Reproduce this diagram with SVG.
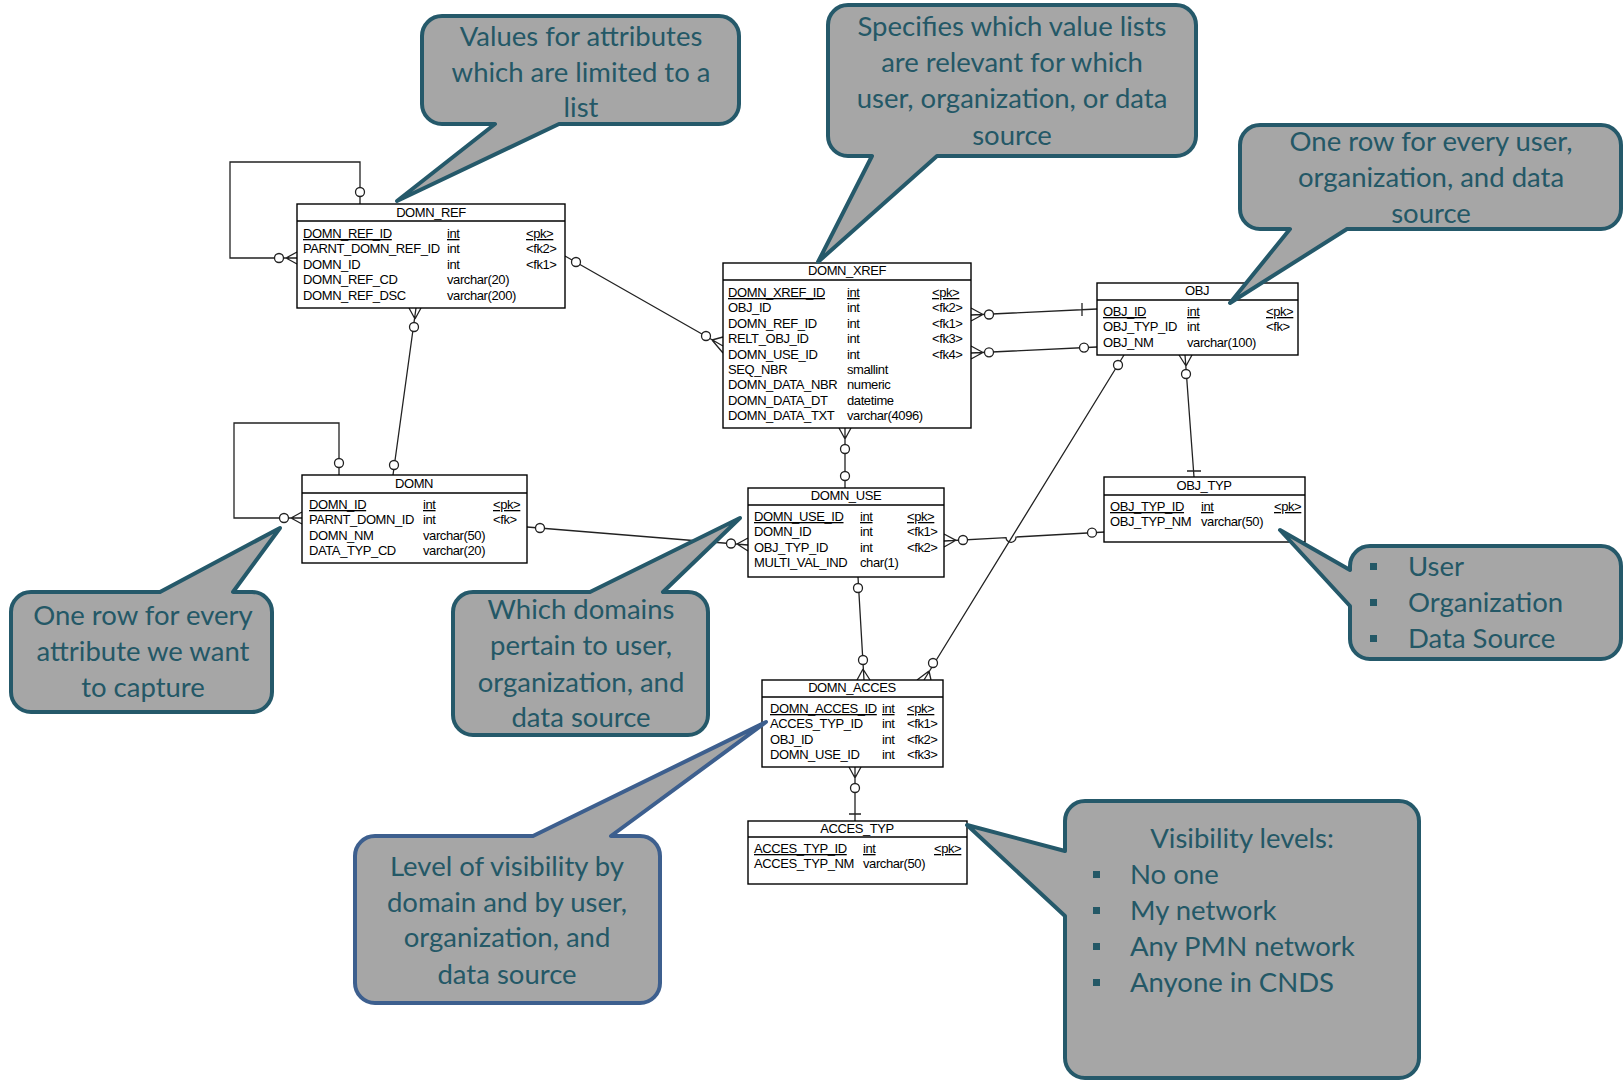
<svg xmlns="http://www.w3.org/2000/svg" width="1624" height="1081" viewBox="0 0 1624 1081">
<style>
.bg{fill:#fff}
.box{fill:#fff;stroke:#000;stroke-width:1.4}
.hl{stroke:#000;stroke-width:1.3}
.t{font-family:"Liberation Sans",Arial,sans-serif;font-size:13px;letter-spacing:-0.4px;fill:#000}
.u{text-decoration:underline}
.ttl{text-anchor:middle}
.ln{fill:none;stroke:#222;stroke-width:1.3}
.cir{fill:#fff;stroke:#222;stroke-width:1.3}
.co{fill:#a6a6a6;stroke:#25596a;stroke-width:4;stroke-linejoin:round}
.co2{fill:#a6a6a6;stroke:#3d5f8e;stroke-width:4;stroke-linejoin:round}
.ct{font-family:Lato,"Open Sans",sans-serif;font-size:27.5px;fill:#245866;text-anchor:middle}
.cb{font-family:Lato,"Open Sans",sans-serif;font-size:27.5px;fill:#245866}
.bul{fill:#245866}
</style>
<rect class="bg" x="0" y="0" width="1624" height="1081"/>

<g id="connectors">
  <path class="ln" d="M360,204 V162 H230 V258 H297 M286,258 L297,252 M286,258 L297,264"/>
  <circle class="cir" cx="360" cy="192" r="4.5"/>
  <circle class="cir" cx="279" cy="258" r="4.5"/>
  <path class="ln" d="M339,475 V423 H234 V518 H302 M291,518 L302,512 M291,518 L302,524"/>
  <circle class="cir" cx="339" cy="463" r="4.5"/>
  <circle class="cir" cx="284" cy="518" r="4.5"/>
  <path class="ln" d="M416,308 L393,475 M415,319 L409,308 M415,319 L421,308"/>
  <circle class="cir" cx="414" cy="327" r="4.5"/>
  <circle class="cir" cx="394" cy="465" r="4.5"/>
  <path class="ln" d="M565,256 L723,346 M712,340 L723,337 M712,340 L723,353"/>
  <circle class="cir" cx="576" cy="262" r="4.5"/>
  <circle class="cir" cx="706" cy="336" r="4.5"/>
  <path class="ln" d="M971,315 L1097,309 M983,314.5 L971,308 M983,314.5 L971,321 M1082,303 V316"/>
  <circle class="cir" cx="989" cy="314.5" r="4.5"/>
  <path class="ln" d="M971,353 L1097,347 M983,352.5 L971,346 M983,352.5 L971,359"/>
  <circle class="cir" cx="989" cy="352.3" r="4.5"/>
  <circle class="cir" cx="1084" cy="347.6" r="4.5"/>
  <path class="ln" d="M845,428 V488 M845,439 L839,428 M845,439 L851,428"/>
  <circle class="cir" cx="845" cy="449" r="4.5"/>
  <circle class="cir" cx="845" cy="476" r="4.5"/>
  <path class="ln" d="M527,527 L748,545 M737,544 L748,538 M737,544 L748,551"/>
  <circle class="cir" cx="540" cy="528" r="4.5"/>
  <circle class="cir" cx="731" cy="543.5" r="4.5"/>
  <path class="ln" d="M944,541 L1006,537.6 A5,5 0 0 0 1016,537 L1105,532 M956,540.3 L944,534 M956,540.3 L944,547"/>
  <circle class="cir" cx="963" cy="540" r="4.5"/>
  <circle class="cir" cx="1092" cy="532.7" r="4.5"/>
  <path class="ln" d="M858,577 L864,680 M863,669 L857,680 M863,669 L870,680"/>
  <circle class="cir" cx="858" cy="588" r="4.5"/>
  <circle class="cir" cx="863" cy="660" r="4.5"/>
  <path class="ln" d="M1124,355 L924,680 M929,671 L917,680 M929,671 L931,680"/>
  <circle class="cir" cx="1118" cy="365" r="4.5"/>
  <circle class="cir" cx="933" cy="663" r="4.5"/>
  <path class="ln" d="M1185,355 L1194,477 M1186,366 L1179,355 M1186,366 L1192,355 M1187,471 H1201"/>
  <circle class="cir" cx="1186" cy="374" r="4.5"/>
  <path class="ln" d="M855,767 V821 M855,778 L849,767 M855,778 L861,767 M849,814 H861"/>
  <circle class="cir" cx="855" cy="788" r="4.5"/>
</g>

<g id="DOMN_REF">
  <rect class="box" x="297" y="204" width="268" height="104"/>
  <line class="hl" x1="297" y1="221" x2="565" y2="221"/>
  <text class="t ttl" x="431" y="217">DOMN_REF</text>
  <text class="t u" x="303" y="238">DOMN_REF_ID</text><text class="t u" x="447" y="238">int</text><text class="t u" x="526" y="238">&lt;pk&gt;</text>
  <text class="t" x="303" y="253.4">PARNT_DOMN_REF_ID</text><text class="t" x="447" y="253.4">int</text><text class="t" x="526" y="253.4">&lt;fk2&gt;</text>
  <text class="t" x="303" y="268.8">DOMN_ID</text><text class="t" x="447" y="268.8">int</text><text class="t" x="526" y="268.8">&lt;fk1&gt;</text>
  <text class="t" x="303" y="284.2">DOMN_REF_CD</text><text class="t" x="447" y="284.2">varchar(20)</text>
  <text class="t" x="303" y="299.6">DOMN_REF_DSC</text><text class="t" x="447" y="299.6">varchar(200)</text>
</g>

<g id="DOMN_XREF">
  <rect class="box" x="723" y="263" width="248" height="165"/>
  <line class="hl" x1="723" y1="280" x2="971" y2="280"/>
  <text class="t ttl" x="847" y="275">DOMN_XREF</text>
  <text class="t u" x="728" y="297">DOMN_XREF_ID</text><text class="t u" x="847" y="297">int</text><text class="t u" x="932" y="297">&lt;pk&gt;</text>
  <text class="t" x="728" y="312.4">OBJ_ID</text><text class="t" x="847" y="312.4">int</text><text class="t" x="932" y="312.4">&lt;fk2&gt;</text>
  <text class="t" x="728" y="327.8">DOMN_REF_ID</text><text class="t" x="847" y="327.8">int</text><text class="t" x="932" y="327.8">&lt;fk1&gt;</text>
  <text class="t" x="728" y="343.2">RELT_OBJ_ID</text><text class="t" x="847" y="343.2">int</text><text class="t" x="932" y="343.2">&lt;fk3&gt;</text>
  <text class="t" x="728" y="358.6">DOMN_USE_ID</text><text class="t" x="847" y="358.6">int</text><text class="t" x="932" y="358.6">&lt;fk4&gt;</text>
  <text class="t" x="728" y="374">SEQ_NBR</text><text class="t" x="847" y="374">smallint</text>
  <text class="t" x="728" y="389.4">DOMN_DATA_NBR</text><text class="t" x="847" y="389.4">numeric</text>
  <text class="t" x="728" y="404.8">DOMN_DATA_DT</text><text class="t" x="847" y="404.8">datetime</text>
  <text class="t" x="728" y="420.2">DOMN_DATA_TXT</text><text class="t" x="847" y="420.2">varchar(4096)</text>
</g>

<g id="OBJ">
  <rect class="box" x="1097" y="283" width="201" height="72"/>
  <line class="hl" x1="1097" y1="300" x2="1298" y2="300"/>
  <text class="t ttl" x="1197" y="295">OBJ</text>
  <text class="t u" x="1103" y="316">OBJ_ID</text><text class="t u" x="1187" y="316">int</text><text class="t u" x="1266" y="316">&lt;pk&gt;</text>
  <text class="t" x="1103" y="331.4">OBJ_TYP_ID</text><text class="t" x="1187" y="331.4">int</text><text class="t" x="1266" y="331.4">&lt;fk&gt;</text>
  <text class="t" x="1103" y="346.8">OBJ_NM</text><text class="t" x="1187" y="346.8">varchar(100)</text>
</g>

<g id="DOMN">
  <rect class="box" x="302" y="475" width="225" height="88"/>
  <line class="hl" x1="302" y1="493" x2="527" y2="493"/>
  <text class="t ttl" x="414" y="488">DOMN</text>
  <text class="t u" x="309" y="509">DOMN_ID</text><text class="t u" x="423" y="509">int</text><text class="t u" x="493" y="509">&lt;pk&gt;</text>
  <text class="t" x="309" y="524.4">PARNT_DOMN_ID</text><text class="t" x="423" y="524.4">int</text><text class="t" x="493" y="524.4">&lt;fk&gt;</text>
  <text class="t" x="309" y="539.8">DOMN_NM</text><text class="t" x="423" y="539.8">varchar(50)</text>
  <text class="t" x="309" y="555.2">DATA_TYP_CD</text><text class="t" x="423" y="555.2">varchar(20)</text>
</g>

<g id="DOMN_USE">
  <rect class="box" x="748" y="488" width="196" height="89"/>
  <line class="hl" x1="748" y1="505" x2="944" y2="505"/>
  <text class="t ttl" x="846" y="500">DOMN_USE</text>
  <text class="t u" x="754" y="521">DOMN_USE_ID</text><text class="t u" x="860" y="521">int</text><text class="t u" x="907" y="521">&lt;pk&gt;</text>
  <text class="t" x="754" y="536.4">DOMN_ID</text><text class="t" x="860" y="536.4">int</text><text class="t" x="907" y="536.4">&lt;fk1&gt;</text>
  <text class="t" x="754" y="551.8">OBJ_TYP_ID</text><text class="t" x="860" y="551.8">int</text><text class="t" x="907" y="551.8">&lt;fk2&gt;</text>
  <text class="t" x="754" y="567.2">MULTI_VAL_IND</text><text class="t" x="860" y="567.2">char(1)</text>
</g>

<g id="OBJ_TYP">
  <rect class="box" x="1104" y="477" width="201" height="65"/>
  <line class="hl" x1="1104" y1="495" x2="1305" y2="495"/>
  <text class="t ttl" x="1204" y="490">OBJ_TYP</text>
  <text class="t u" x="1110" y="511">OBJ_TYP_ID</text><text class="t u" x="1201" y="511">int</text><text class="t u" x="1274" y="511">&lt;pk&gt;</text>
  <text class="t" x="1110" y="526.4">OBJ_TYP_NM</text><text class="t" x="1201" y="526.4">varchar(50)</text>
</g>

<g id="DOMN_ACCES">
  <rect class="box" x="762" y="680" width="181" height="87"/>
  <line class="hl" x1="762" y1="697" x2="943" y2="697"/>
  <text class="t ttl" x="852" y="692">DOMN_ACCES</text>
  <text class="t u" x="770" y="713">DOMN_ACCES_ID</text><text class="t u" x="882" y="713">int</text><text class="t u" x="907" y="713">&lt;pk&gt;</text>
  <text class="t" x="770" y="728.4">ACCES_TYP_ID</text><text class="t" x="882" y="728.4">int</text><text class="t" x="907" y="728.4">&lt;fk1&gt;</text>
  <text class="t" x="770" y="743.8">OBJ_ID</text><text class="t" x="882" y="743.8">int</text><text class="t" x="907" y="743.8">&lt;fk2&gt;</text>
  <text class="t" x="770" y="759.2">DOMN_USE_ID</text><text class="t" x="882" y="759.2">int</text><text class="t" x="907" y="759.2">&lt;fk3&gt;</text>
</g>

<g id="ACCES_TYP">
  <rect class="box" x="748" y="821" width="219" height="63"/>
  <line class="hl" x1="748" y1="837" x2="967" y2="837"/>
  <text class="t ttl" x="857" y="833">ACCES_TYP</text>
  <text class="t u" x="754" y="853">ACCES_TYP_ID</text><text class="t u" x="863" y="853">int</text><text class="t u" x="934" y="853">&lt;pk&gt;</text>
  <text class="t" x="754" y="868.4">ACCES_TYP_NM</text><text class="t" x="863" y="868.4">varchar(50)</text>
</g>

<g id="callout-values">
  <path class="co" d="M442,16 H719 A20,20 0 0 1 739,36 V104 A20,20 0 0 1 719,124 H559 L397,201 L495,124 H442 A20,20 0 0 1 422,104 V36 A20,20 0 0 1 442,16 Z"/>
  <text class="ct" x="581" y="46">Values for attributes</text>
  <text class="ct" x="581" y="82">which are limited to a</text>
  <text class="ct" x="581" y="117">list</text>
</g>

<g id="callout-specifies">
  <path class="co" d="M848,5 H1176 A20,20 0 0 1 1196,25 V136 A20,20 0 0 1 1176,156 H937 L818,262 L872,156 H848 A20,20 0 0 1 828,136 V25 A20,20 0 0 1 848,5 Z"/>
  <text class="ct" x="1012" y="36">Specifies which value lists</text>
  <text class="ct" x="1012" y="72">are relevant for which</text>
  <text class="ct" x="1012" y="108">user, organization, or data</text>
  <text class="ct" x="1012" y="145">source</text>
</g>

<g id="callout-onerow-user">
  <path class="co" d="M1260,125 H1601 A20,20 0 0 1 1621,145 V209 A20,20 0 0 1 1601,229 H1347 L1230,303 L1290,229 H1260 A20,20 0 0 1 1240,209 V145 A20,20 0 0 1 1260,125 Z"/>
  <text class="ct" x="1431" y="151">One row for every user,</text>
  <text class="ct" x="1431" y="187">organization, and data</text>
  <text class="ct" x="1431" y="223">source</text>
</g>

<g id="callout-onerow-attr">
  <path class="co" d="M31,592 H160 L280,528 L233,592 H252 A20,20 0 0 1 272,612 V692 A20,20 0 0 1 252,712 H31 A20,20 0 0 1 11,692 V612 A20,20 0 0 1 31,592 Z"/>
  <text class="ct" x="143" y="625">One row for every</text>
  <text class="ct" x="143" y="661">attribute we want</text>
  <text class="ct" x="143" y="697">to capture</text>
</g>

<g id="callout-domains">
  <path class="co" d="M473,592 H590 L740,518 L663,592 H688 A20,20 0 0 1 708,612 V715 A20,20 0 0 1 688,735 H473 A20,20 0 0 1 453,715 V612 A20,20 0 0 1 473,592 Z"/>
  <text class="ct" x="581" y="619">Which domains</text>
  <text class="ct" x="581" y="655">pertain to user,</text>
  <text class="ct" x="581" y="692">organization, and</text>
  <text class="ct" x="581" y="727">data source</text>
</g>

<g id="callout-level">
  <path class="co2" d="M375,836 H533 L766,722 L611,836 H640 A20,20 0 0 1 660,856 V983 A20,20 0 0 1 640,1003 H375 A20,20 0 0 1 355,983 V856 A20,20 0 0 1 375,836 Z"/>
  <text class="ct" x="507" y="876">Level of visibility by</text>
  <text class="ct" x="507" y="912">domain and by user,</text>
  <text class="ct" x="507" y="947">organization, and</text>
  <text class="ct" x="507" y="984">data source</text>
</g>

<g id="callout-types">
  <path class="co" d="M1370,546 H1601 A20,20 0 0 1 1621,566 V639 A20,20 0 0 1 1601,659 H1370 A20,20 0 0 1 1350,639 V606 L1280,530 L1350,570 V566 A20,20 0 0 1 1370,546 Z"/>
  <rect class="bul" x="1370" y="563" width="7" height="7"/>
  <rect class="bul" x="1370" y="599" width="7" height="7"/>
  <rect class="bul" x="1370" y="635" width="7" height="7"/>
  <text class="cb" x="1408" y="576">User</text>
  <text class="cb" x="1408" y="612">Organization</text>
  <text class="cb" x="1408" y="648">Data Source</text>
</g>

<g id="callout-visibility">
  <path class="co" d="M1085,801 H1399 A20,20 0 0 1 1419,821 V1058 A20,20 0 0 1 1399,1078 H1085 A20,20 0 0 1 1065,1058 V916 L967,825 L1065,851 V821 A20,20 0 0 1 1085,801 Z"/>
  <text class="ct" x="1242" y="848">Visibility levels:</text>
  <rect class="bul" x="1093" y="871" width="7" height="7"/>
  <rect class="bul" x="1093" y="907" width="7" height="7"/>
  <rect class="bul" x="1093" y="943" width="7" height="7"/>
  <rect class="bul" x="1093" y="979" width="7" height="7"/>
  <text class="cb" x="1130" y="884">No one</text>
  <text class="cb" x="1130" y="920">My network</text>
  <text class="cb" x="1130" y="956">Any PMN network</text>
  <text class="cb" x="1130" y="992">Anyone in CNDS</text>
</g>
</svg>
